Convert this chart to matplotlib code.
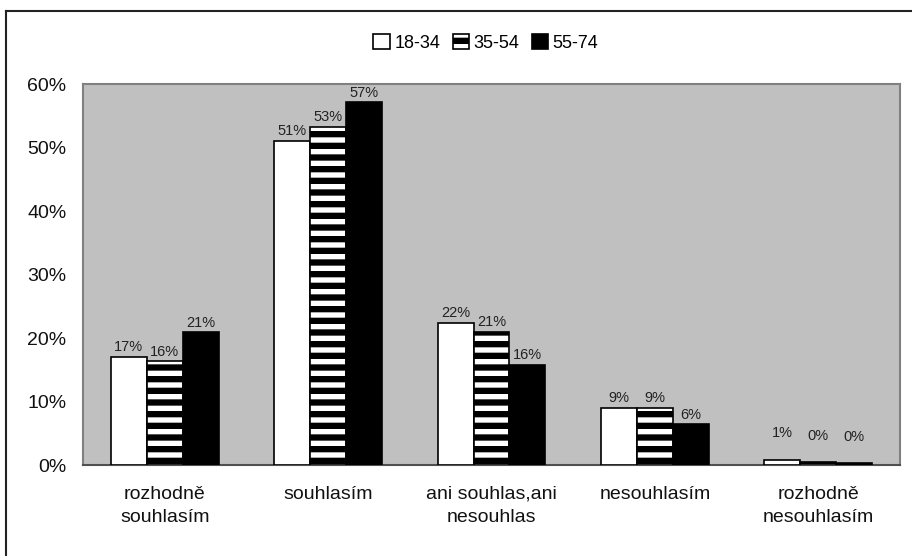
import matplotlib.pyplot as plt
import matplotlib.patches as mpatches
from matplotlib.lines import Line2D
import numpy as np

# dpi 70 => hustota šrafování odpovídá originálu (~12 px perioda)
DPI = 70
K = 100 / DPI  # přepočet velikostí, aby pixely seděly

plt.rcParams['font.family'] = ['Liberation Sans', 'DejaVu Sans']
plt.rcParams['hatch.linewidth'] = 6.5
plt.rcParams['hatch.color'] = 'black'

# --- Dados ---
kategorie = ['rozhodně\nsouhlasím', 'souhlasím', 'ani souhlas,ani\nnesouhlas',
             'nesouhlasím', 'rozhodně\nnesouhlasím']
skupiny = ['18-34', '35-54', '55-74']
hodnoty_18_34 = [17.0, 51.0, 22.4, 9.0, 0.8]
hodnoty_35_54 = [16.3, 53.2, 21.0, 9.0, 0.4]
hodnoty_55_74 = [20.9, 57.1, 15.8, 6.4, 0.3]
y_ticks = [0, 10, 20, 30, 40, 50, 60]

serie = [hodnoty_18_34, hodnoty_35_54, hodnoty_55_74]
styly = [
    dict(facecolor='white', hatch=None),
    dict(facecolor='white', hatch='-'),
    dict(facecolor='black', hatch=None),
]

fig = plt.figure(figsize=(912 / DPI, 556 / DPI), dpi=DPI)
ax = fig.add_axes([83 / 912, 1 - 465 / 556, (900 - 83) / 912, (465 - 84) / 556])
ax.set_facecolor('#c0c0c0')

x = np.arange(len(kategorie))
w = 0.22
handles = []
for i, (vals, st) in enumerate(zip(serie, styly)):
    pos = x + (i - 1) * w
    ax.bar(pos, vals, width=w, facecolor=st['facecolor'], hatch=st['hatch'],
           edgecolor='black', linewidth=1.2 * K, zorder=3)
    for xx, v in zip(pos, vals):
        off = 14 if v < 2 else 2
        ax.annotate(f'{round(v):.0f}%', (xx, v), xytext=(0, off * K), textcoords='offset points',
                    ha='center', va='bottom', fontsize=10.5 * K,
                    family=['Liberation Sans Narrow', 'Liberation Sans'], color='#222222')
    handles.append(mpatches.Patch(facecolor=st['facecolor'], hatch=st['hatch'],
                                  edgecolor='black', linewidth=1.2 * K))

ax.set_xlim(-0.5, len(kategorie) - 0.5)
ax.set_ylim(0, 60)
ax.set_yticks(y_ticks)
ax.set_yticklabels([f'{t}%' for t in y_ticks])
ax.set_xticks(x)
ax.set_xticklabels(kategorie, linespacing=1.5)
ax.tick_params(axis='both', length=0, labelsize=14 * K, colors='#111111')
ax.tick_params(axis='x', pad=15 * K)
ax.tick_params(axis='y', pad=12 * K)

for s in ['top', 'right', 'left']:
    ax.spines[s].set_color('#808080')
    ax.spines[s].set_linewidth(1.5 * K)
ax.spines['bottom'].set_color('#505050')
ax.spines['bottom'].set_linewidth(1.5 * K)

leg = fig.legend(handles, skupiny, loc='center', bbox_to_anchor=(486 / 912, 1 - 43 / 556),
                 ncol=3, frameon=False, fontsize=13 * K, handlelength=0.9, handleheight=0.9,
                 handletextpad=0.25, columnspacing=0.7)

# vnější rámeček (levý a horní okraj)
fig.add_artist(Line2D([5.5 / 912, 5.5 / 912], [0, 1 - 10.5 / 556], color='#222222', lw=1.5 * K))
fig.add_artist(Line2D([5.5 / 912, 1], [1 - 10.5 / 556, 1 - 10.5 / 556], color='#222222', lw=1.5 * K))

fig.savefig('out.png', dpi=DPI, facecolor='white')
